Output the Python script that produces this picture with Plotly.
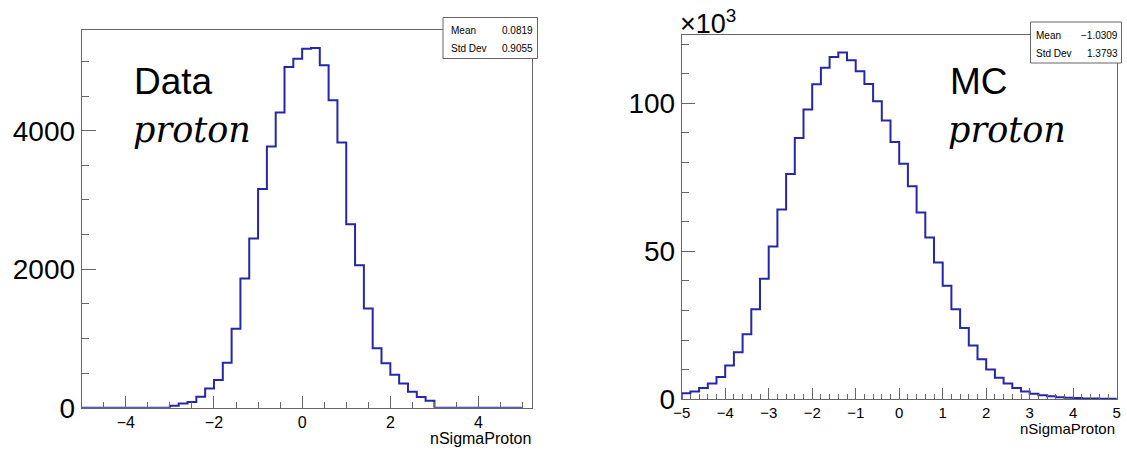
import numpy as np
import plotly.graph_objects as go

W, H = 1127, 453

# Histogram binning (both panels): 50 bins of width 0.2 starting at -5
bin_lo = -5.0
bin_width = 0.2

# Data: nSigmaProton counts per bin
data_counts = [0] * 10 + [
    27, 60, 82, 157, 277, 400, 650, 1140, 1867, 2444,
    3160, 3772, 4265, 4920, 5040, 5185, 5195, 4945, 4440, 3832,
    2651, 2059, 1434, 860, 641, 476, 348, 231, 156, 101,
] + [0] * 10

# MC: nSigmaProton counts per bin
mc_counts = [
    2050, 2600, 3800, 5350, 7500, 11400, 15900, 22000, 30400, 40700,
    51600, 64100, 76100, 88300, 97900, 106450, 112000, 115600, 117150, 114550,
    110850, 106550, 100700, 94200, 86900, 79550, 72000, 63100, 54650, 46200,
    38400, 30400, 24100, 18150, 13550, 10050, 7300, 5350, 3850, 2600,
    1900, 1350, 1000, 700, 550, 400, 300, 250, 200, 150,
]

data_stats = [("Mean", "0.0819"), ("Std Dev", "0.9055")]
mc_stats = [("Mean", "\u22121.0309"), ("Std Dev", "1.3793")]

mc_yticks = [0, 50000, 100000]
mc_yticktext = ["0", "50", "100"]

SANS = "Liberation Sans, Arial, sans-serif"
SERIF = "DejaVu Serif, serif"
FRAME = "#666666"
LINE = "#2626aa"


def fx(px):
    return px / W


def fy(py):
    return 1 - py / H


def step_xy(counts):
    edges = bin_lo + bin_width * np.arange(len(counts) + 1)
    xs = [edges[0]] + list(edges[:-1]) + [edges[-1], edges[-1]]
    ys = [0] + list(counts) + [counts[-1], 0]
    return xs, ys


fig = go.Figure()

xs, ys = step_xy(data_counts)
fig.add_trace(go.Scatter(x=xs, y=ys, mode="lines", line=dict(shape="hv", color=LINE, width=2),
                         xaxis="x", yaxis="y", hoverinfo="skip", showlegend=False))
xs, ys = step_xy(mc_counts)
fig.add_trace(go.Scatter(x=xs, y=ys, mode="lines", line=dict(shape="hv", color=LINE, width=2),
                         xaxis="x2", yaxis="y2", hoverinfo="skip", showlegend=False))

axis_common = dict(showline=True, mirror=True, linecolor=FRAME, linewidth=1,
                   showgrid=False, zeroline=False, ticks="inside", tickcolor=FRAME,
                   tickwidth=1, automargin=False)

fig.update_layout(
    width=W, height=H,
    margin=dict(l=0, r=0, t=0, b=0),
    paper_bgcolor="white", plot_bgcolor="white",
    xaxis=dict(axis_common, domain=[fx(81.7), fx(532.3)], range=[-5, 5.22],
               tick0=0, dtick=2, ticklen=12,
               minor=dict(dtick=0.5, ticklen=6, ticks="inside", tickcolor=FRAME),
               tickfont=dict(family=SANS, size=16, color="black"), anchor="y"),
    yaxis=dict(axis_common, domain=[fy(407.7), fy(30)], range=[0, 5455],
               tick0=0, dtick=2000, ticklen=14,
               minor=dict(dtick=500, ticklen=7, ticks="inside", tickcolor=FRAME),
               tickfont=dict(family=SANS, size=28, color="black"), anchor="x"),
    xaxis2=dict(axis_common, domain=[fx(681.7), fx(1116.7)], range=[-5, 5],
                tick0=0, dtick=1, ticklen=11,
                minor=dict(dtick=0.2, ticklen=5.5, ticks="inside", tickcolor=FRAME),
                tickfont=dict(family=SANS, size=15, color="black"), anchor="y2"),
    yaxis2=dict(axis_common, domain=[fy(399.3), fy(35)], range=[0, 123070],
                tickvals=mc_yticks, ticktext=mc_yticktext, ticklen=13,
                minor=dict(dtick=10000, ticklen=7, ticks="inside", tickcolor=FRAME),
                tickfont=dict(family=SANS, size=28, color="black"), anchor="x2"),
)

annotations = []
shapes = []


def add_text(text, x, y, size, family=SANS, xanchor="left", yanchor="middle", italic=False):
    annotations.append(dict(
        text=f"<i>{text}</i>" if italic else text,
        x=fx(x), y=fy(y), xref="paper", yref="paper",
        xanchor=xanchor, yanchor=yanchor, showarrow=False,
        font=dict(family=family, size=size, color="black"),
    ))


# Panel labels
add_text("Data", 132, 81, 37)
add_text("proton", 131, 130, 35, family=SERIF, italic=True)
add_text("MC", 948, 81, 37)
add_text("proton", 946, 130, 35, family=SERIF, italic=True)

# Axis titles
add_text("nSigmaProton", 533, 438, 16, xanchor="right")
add_text("nSigmaProton", 1117, 428, 15, xanchor="right")

# Exponent of the MC y axis
add_text("\u00d710<sup>3</sup>", 678, 22, 27)


def stats_box(x0, x1, y0, y1, rows, row_y, val_right, label_left):
    shapes.append(dict(type="rect", xref="paper", yref="paper",
                       x0=fx(x0), x1=fx(x1), y0=fy(y1), y1=fy(y0),
                       line=dict(color=FRAME, width=1), fillcolor="white", layer="above"))
    for (name, val), yy in zip(rows, row_y):
        add_text(name, label_left, yy, 10)
        add_text(val, val_right, yy, 10, xanchor="right")


stats_box(443, 537.5, 17.5, 58.5, data_stats, [30, 48.5], 535, 449)
stats_box(1030.5, 1121.5, 22, 63, mc_stats, [35.5, 53.5], 1120, 1034)

fig.update_layout(annotations=annotations, shapes=shapes)

fig.write_html("out.html")
